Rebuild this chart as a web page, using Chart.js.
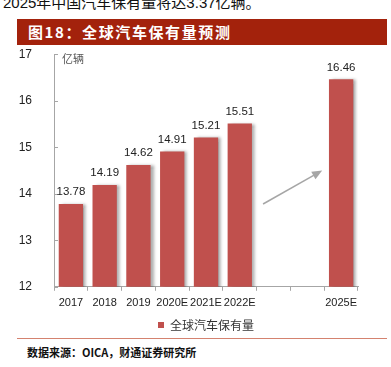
<!DOCTYPE html>
<html>
<head>
<meta charset="utf-8">
<script src="https://cdn.jsdelivr.net/npm/chart.js@4/dist/chart.umd.min.js"></script>
<style>
  body { margin: 0; width: 391px; height: 367px; position: relative; overflow: hidden; background: #fff;
    font-family: "Liberation Sans", "Noto Sans CJK SC", sans-serif; }
  #topline { position: absolute; left: 3px; top: -9px; font-size: 15px; color: #111; white-space: nowrap;
    font-family: "Liberation Sans", "Noto Sans CJK SC", sans-serif; }
  #title { position: absolute; left: 17px; top: 19px; width: 370px; height: 26px; background: #a3220c;
    color: #fff; font-size: 15px; font-weight: bold; line-height: 26px; padding-left: 11px; box-sizing: border-box;
    font-family: "Noto Sans CJK SC", sans-serif; letter-spacing: 1.6px; z-index: 2; }
  #box { position: absolute; left: 0; top: 33px; width: 391px; height: 308px; z-index: 1; }
  #sep { position: absolute; left: 17px; top: 338px; width: 370px; height: 1px; background: #d4826f; }
  #src { position: absolute; left: 27px; top: 344px; font-size: 11px; font-weight: bold; color: #111;
    font-family: "Noto Sans CJK SC", sans-serif; }
</style>
</head>
<body>
<div id="topline">2025年中国汽车保有量将达3.37亿辆。</div>
<div id="title">图18：全球汽车保有量预测</div>
<div id="box"><canvas id="myChart" width="391" height="308"></canvas></div>
<div id="sep"></div>
<div id="src">数据来源：OICA，财通证券研究所</div>
<script>
let years = ['2017', '2018', '2019', '2020E', '2021E', '2022E', '', '', '2025E'];
let stock = [13.78, 14.19, 14.62, 14.91, 15.21, 15.51, null, null, 16.46];
let yTicks = [12, 13, 14, 15, 16, 17];
let seriesName = '全球汽车保有量';
let unitLabel = '亿辆';
// arrow from / to, in (category index, value)
let arrowFrom = [5.69, 13.78];
let arrowTo = [7.44, 14.5];

let barColor = '#c0504d';
let axisColor = '#a6a6a6';
let numFont = '"Liberation Sans", Arial, sans-serif';

const extras = {
  id: 'extras',
  beforeDatasetsDraw(chart) {
    let ctx = chart.ctx;
    ctx.save();
    ctx.shadowColor = 'rgba(0,0,0,0.35)';
    ctx.shadowOffsetX = 3;
    ctx.shadowOffsetY = 0;
    ctx.shadowBlur = 3;
  },
  afterDatasetsDraw(chart) {
    let ctx = chart.ctx;
    ctx.restore();
    let ys = chart.scales.y, xs = chart.scales.x;
    let area = chart.chartArea;

    // inside ticks on y axis
    ctx.save();
    ctx.strokeStyle = axisColor;
    ctx.lineWidth = 1;
    for (const v of yTicks) {
      let py = Math.round(ys.getPixelForValue(v)) + 0.5;
      ctx.beginPath();
      ctx.moveTo(area.left, py);
      ctx.lineTo(area.left + 4, py);
      ctx.stroke();
    }
    ctx.restore();

    // value labels
    ctx.save();
    ctx.font = '11.5px ' + numFont;
    ctx.fillStyle = '#222';
    ctx.textAlign = 'center';
    ctx.textBaseline = 'bottom';
    let meta = chart.getDatasetMeta(0);
    meta.data.forEach((bar, i) => {
      if (stock[i] == null) return;
      ctx.fillText(stock[i].toFixed(2), bar.x, bar.y - 6);
    });
    ctx.restore();

    // unit
    ctx.save();
    ctx.font = '11px "Noto Sans CJK SC", sans-serif';
    ctx.fillStyle = '#555';
    ctx.textAlign = 'left';
    ctx.textBaseline = 'top';
    ctx.fillText(unitLabel, area.left + 8, area.top - 1);
    ctx.restore();

    // arrow
    let x1 = xs.getPixelForValue(arrowFrom[0]), y1 = ys.getPixelForValue(arrowFrom[1]);
    let x2 = xs.getPixelForValue(arrowTo[0]), y2 = ys.getPixelForValue(arrowTo[1]);
    let ang = Math.atan2(y2 - y1, x2 - x1);
    let head = 11;
    ctx.save();
    ctx.strokeStyle = '#a6a6a6';
    ctx.fillStyle = '#a6a6a6';
    ctx.lineWidth = 1.5;
    ctx.beginPath();
    ctx.moveTo(x1, y1);
    ctx.lineTo(x2 - Math.cos(ang) * head * 0.8, y2 - Math.sin(ang) * head * 0.8);
    ctx.stroke();
    ctx.beginPath();
    ctx.moveTo(x2, y2);
    ctx.lineTo(x2 - head * Math.cos(ang - 0.4), y2 - head * Math.sin(ang - 0.4));
    ctx.lineTo(x2 - head * Math.cos(ang + 0.4), y2 - head * Math.sin(ang + 0.4));
    ctx.closePath();
    ctx.fill();
    ctx.restore();
  }
};

var ctx = document.querySelector('#myChart').getContext('2d');

let chart = new Chart(ctx, {
  type: 'bar',
  data: {
    labels: years,
    datasets: [{
      label: seriesName,
      data: stock,
      backgroundColor: barColor,
      borderWidth: 0,
      barPercentage: 0.72,
      categoryPercentage: 1,
    }],
  },
  options: {
    responsive: false,
    animation: false,
    maintainAspectRatio: false,
    layout: { padding: { top: 0, right: 33, left: 0, bottom: 0 } },
    plugins: {
      legend: {
        position: 'bottom',
        fullSize: false,
        labels: {
          boxWidth: 6,
          boxHeight: 6,
          padding: 3,
          color: '#333',
          font: { family: '"Noto Sans CJK SC", sans-serif', size: 12 },
        },
      },
      tooltip: { enabled: false },
    },
    scales: {
      x: {
        offset: true,
        grid: { display: true, offset: true, drawOnChartArea: false, tickLength: 4, color: axisColor },
        border: { color: axisColor },
        ticks: { color: '#222', font: { family: numFont, size: 11 }, padding: 6,
          maxRotation: 0, autoSkip: false },
      },
      y: {
        min: 12,
        max: 17,
        afterFit(scale) { scale.width = 54; },
        grid: { display: false },
        border: { color: axisColor },
        ticks: { stepSize: 1, color: '#222', padding: 14,
          font: { family: numFont, size: 12 } },
      },
    },
  },
  plugins: [extras],
});
</script>
</body>
</html>
